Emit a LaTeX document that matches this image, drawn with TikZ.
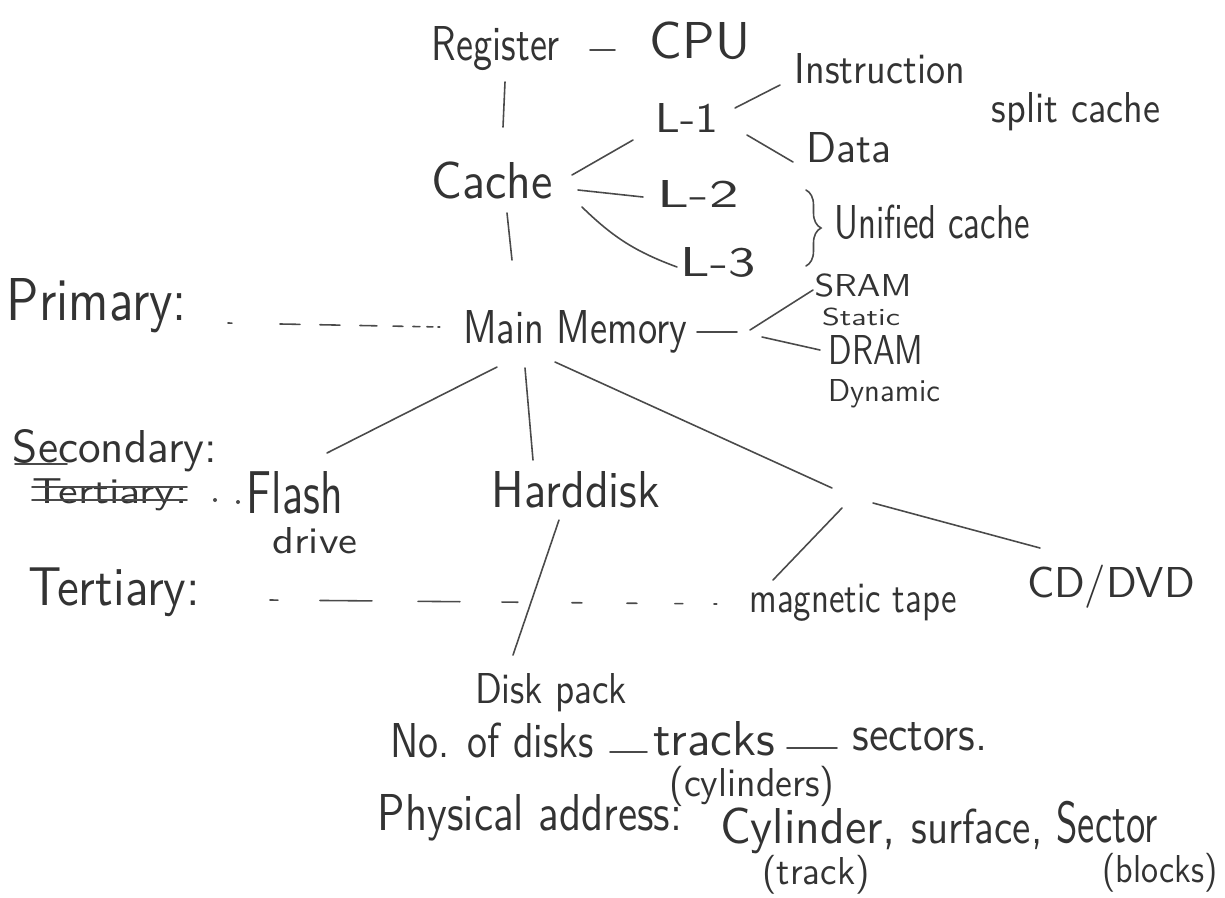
\documentclass[tikz,border=0pt]{standalone}
\usepackage{graphicx}
\usetikzlibrary{decorations.pathreplacing}
\definecolor{ink}{HTML}{333333}
\definecolor{pen}{HTML}{4A4A4A}
\newlength\pxu
\setlength\pxu{0.02cm}
% text stretched to a given width and ascender height (pixel units)
\newcommand\hw[3]{\resizebox{#1\pxu}{#2\pxu}{\smash{#3}\vphantom{X}}}
\tikzset{
  word/.style={inner sep=0pt, anchor=base, text=ink, font=\sffamily},
  link/.style={draw=pen, line width=0.9pt, line cap=round},
}
\begin{document}
\begin{tikzpicture}[x=0.02cm, y=-0.02cm]
\useasboundingbox[fill=white] (0,0) rectangle (1225,897);

% ---- hierarchy words ----
\node[word] (reg)       at (496,60)  {\hw{128}{34}{Register}};
\node[word] (cpu)       at (700,58)  {\hw{100}{36}{CPU}};
\node[word] (cache)     at (492,198) {\hw{121}{36}{Cache}};
\node[word] (l1)        at (687,132) {\hw{63}{29}{L-1}};
\node[word] (instr)     at (880,83)  {\hw{170}{30}{Instruction}};
\node[word] (split)     at (1076,122){\hw{168}{30}{split cache}};
\node[word] (data)      at (849,162) {\hw{85}{30}{Data}};
\node[word] (l2)        at (698,207) {\hw{81}{27}{L-2}};
\node[word] (l3)        at (718,276) {\hw{75}{29}{L-3}};
\node[word] (unified)   at (932,238) {\hw{195}{33}{Unified cache}};
\node[word] (primary)   at (97,320)  {\hw{180}{42}{Primary:}};
\node[word] (mm)        at (575,343) {\hw{224}{33}{Main Memory}};
\node[word] (sram)      at (863,296) {\hw{97}{22}{SRAM}};
\node[word] (static)    at (861,325) {\hw{78}{17}{Static}};
\node[word] (dram)      at (876,364) {\hw{95}{29}{DRAM}};
\node[word] (dynamic)   at (884,401) {\hw{112}{22}{Dynamic}};
\node[word] (secondary) at (115,462) {\hw{204}{32}{Secondary:}};
\node[word] (tertx)     at (110,503) {\hw{155}{25}{Tertiary:}};
\node[word] (flash)     at (295,513) {\hw{96}{42}{Flash}};
\node[word] (drive)     at (315,553) {\hw{85}{26}{drive}};
\node[word] (hdd)       at (576,507) {\hw{168}{36}{Harddisk}};
\node[word] (tert)      at (114,605) {\hw{172}{38}{Tertiary:}};
\node[word] (tape)      at (853,612) {\hw{207}{30}{magnetic tape}};
\node[word] (cd)        at (1111,597){\hw{168}{30}{CD/DVD}};
\node[word] (pack)      at (551,703) {\hw{152}{30}{Disk pack}};
\node[word] (ndisks)    at (492,757) {\hw{203}{34}{No. of disks}};
\node[word] (tracks)    at (714,755) {\hw{122}{34}{tracks}};
\node[word] (sectors)   at (920,750) {\hw{135}{34}{sectors.}};
\node[word] (cyl)       at (752,796) {\hw{165}{28}{(cylinders)}};
\node[word] (phys)      at (530,830) {\hw{304}{36}{Physical address:}};
\node[word] (cylinder)  at (808,843) {\hw{176}{35}{Cylinder,}};
\node[word] (surface)   at (977,843) {\hw{131}{34}{surface,}};
\node[word] (sector)    at (1107,842){\hw{101}{40}{Sector}};
\node[word] (track)     at (816,884) {\hw{107}{27}{(track)}};
\node[word] (blocks)    at (1160,882){\hw{115}{27}{(blocks)}};

% ---- register / cache levels ----
\draw[link] ([shift={(94,-10)}]reg.base) -- ([shift={(-85,-8)}]cpu.base);
\draw[link] ([shift={(9,22)}]reg.base) -- ([shift={(11,-71)}]cache.base);
\draw[link] ([shift={(15,15)}]cache.base) -- ([shift={(-63,-83)}]mm.base);
\draw[link] ([shift={(80,-23)}]cache.base) -- ([shift={(-54,8)}]l1.base);
\draw[link] ([shift={(86,-8)}]cache.base) -- ([shift={(-55,-10)}]l2.base);
\draw[link] ([shift={(90,9)}]cache.base) to[bend right=12] ([shift={(-41,-9)}]l3.base);
\draw[link] ([shift={(48,-24)}]l1.base) -- ([shift={(-100,2)}]instr.base);
\draw[link] ([shift={(60,3)}]l1.base) -- ([shift={(-56,0)}]data.base);
\draw[link, decorate, decoration={brace, amplitude=0.3cm}]
  ([shift={(-126,-48)}]unified.base) -- ([shift={(-126,28)}]unified.base);

% ---- primary level ----
\draw[link, dash pattern=on 0.08cm off 0.96cm on 0.4cm off 0.4cm on 0.4cm off 0.4cm
  on 0.34cm off 0.32cm on 0.2cm off 0.2cm on 0.14cm off 0.14cm on 0.12cm off 0.1cm
  on 0.04cm off 1cm]
  ([shift={(131,3)}]primary.base) -- ([shift={(-135,-16)}]mm.base);
\coordinate (j) at ([shift={(175,-13)}]mm.base);
\draw[link] ([shift={(122,-11)}]mm.base) -- ([shift={(-13,2)}]j);
\draw[link] (j) -- ([shift={(-50,-6)}]sram.base);
\draw[link] ([shift={(-56,-14)}]dram.base) -- ([shift={(12,7)}]j);

% ---- secondary level ----
\draw[link] ([shift={(-100,2)}]secondary.base) -- ([shift={(-48,2)}]secondary.base);
\draw[link] ([shift={(-78,-16)}]tertx.base) -- ([shift={(77,-16)}]tertx.base);
\draw[link] ([shift={(-78,-3)}]tertx.base) -- ([shift={(77,-3)}]tertx.base);
\fill[pen] ([shift={(-80,-13)}]flash.base) circle[radius=0.04cm];
\fill[pen] ([shift={(-57,-11)}]flash.base) circle[radius=0.04cm];
\draw[link] ([shift={(-78,24)}]mm.base) -- ([shift={(32,-60)}]flash.base);
\draw[link] ([shift={(-50,25)}]mm.base) -- ([shift={(-43,-47)}]hdd.base);
\coordinate (f) at ([shift={(273,153)}]mm.base);
\draw[link] ([shift={(-20,19)}]mm.base) -- ([shift={(-16,-8)}]f);
\draw[link] ([shift={(25,7)}]f) -- ([shift={(-71,-49)}]cd.base);
\draw[link] ([shift={(-6,12)}]f) -- ([shift={(-80,-32)}]tape.base);

% ---- tertiary level ----
\draw[link, dash pattern=on 0.16cm off 0.84cm on 1.04cm off 0.92cm on 0.84cm off 0.84cm
  on 0.32cm off 1.08cm on 0.2cm off 0.9cm on 0.2cm off 0.76cm on 0.16cm off 0.62cm
  on 0.06cm off 2cm]
  ([shift={(156,-5)}]tert.base) -- ([shift={(-136,-8)}]tape.base);
\draw[link] ([shift={(-17,13)}]hdd.base) -- ([shift={(-38,-48)}]pack.base);

% ---- disk pack notes ----
\draw[link] ([shift={(118,-5)}]ndisks.base) -- ([shift={(-67,-3)}]tracks.base);
\draw[link] ([shift={(73,-7)}]tracks.base) -- ([shift={(-83,-2)}]sectors.base);
\end{tikzpicture}
\end{document}
